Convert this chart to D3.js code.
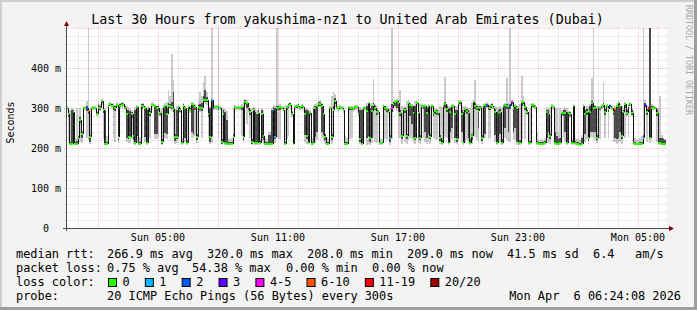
<!DOCTYPE html>
<html>
<head>
<meta charset="utf-8">
<script src="https://d3js.org/d3.v7.min.js"></script>
<style>
body{margin:0;background:#fff}
text{font-family:"DejaVu Sans Mono",monospace;fill:#000;white-space:pre}
</style>
</head>
<body>
<script>
const W = 697, H = 310;
const titleText = "Last 30 Hours from yakushima-nz1 to United Arab Emirates (Dubai)";
const endTime = new Date(2026, 3, 6, 6, 24, 8);
const spanHours = 30;
const stepSec = 300;

// median rtt per 5 min step (ms)
const medianMs = [
300,286,210,210,290,210,210,226,270,236, 300,300,300,292,227,300,300,300,285,300,
300,317,296,210,210,305,310,306,304,300, 308,228,306,308,310,300,285,228,228,285,
230,212,302,210,210,306,306,300,212,300, 287,308,308,304,300,300,287,214,302,304,
285,306,305,302,297,228,228,302,295,212, 306,300,212,302,296,310,308,302,228,302,
299,300,320,319,320,285,228,320,300,302,
302,300,300,214,286,212,210,210,210,210, 228,302,300,302,300,302,228,316,312,300,
290,214,296,212,212,288,212,286,230,210, 210,210,210,210,296,228,300,300,302,300,
296,210,302,306,308,286,210,302,304,306, 300,304,302,286,230,212,287,210,212,300,
304,310,310,306,285,228,210,210,300,228, 296,318,300,298,302,300,296,210,210,302,
300,300,298,302,302,286,222,210,300,300,
292,312,226,292,307,300,290,290,212,212, 305,301,297,290,226,301,309,315,317,313,
287,230,297,295,230,312,308,305,287,226, 313,287,226,305,305,305,287,305,228,305,
287,292,289,287,226,212,305,309,298,212, 290,305,305,284,222,312,315,284,212,297,
292,287,212,230,315,305,301,292,301,226, 305,307,307,301,301,305,301,290,212,287,
290,212,305,307,305,305,305,315,301,305,
300,212,212,315,315,302,290,212,212,307, 307,302,212,210,210,210,210,212,290,284,
230,305,303,212,210,210,212,287,287,287, 212,287,284,212,304,212,210,210,208,210,
305,284,290,226,290,312,301,301,226,302, 301,305,307,290,305,297,305,301,290,297,
305,313,305,230,290,311,287,305,311,287, 212,209,209,209,209,209,226,307,290,298,
226,301,301,301,287,212,212,210,209,209
];

// lowest / highest of the 20 pings per step (ms)
const smokeLo = [
294,218,208,208,210,208,208,210,216,212, 295,294,224,220,210,295,294,294,280,290,
292,308,222,208,208,220,304,300,224,214, 302,212,300,300,304,294,214,212,212,222,
210,208,214,208,208,226,300,216,208,294, 226,302,302,222,222,228,280,208,296,226,
222,296,298,292,226,210,212,222,288,208, 218,214,208,296,288,226,226,230,212,294,
290,226,310,310,308,224,210,212,294,296,
296,226,294,208,212,208,208,208,208,208, 212,296,294,296,294,230,212,306,260,290,
226,208,290,208,208,212,208,214,210,208, 208,208,208,208,224,212,226,222,222,294,
290,208,222,230,300,278,208,296,298,300, 294,298,296,216,210,208,280,208,208,212,
220,302,300,226,214,210,208,208,294,210, 224,300,294,290,296,294,288,208,208,224,
222,226,290,296,296,278,210,208,212,294,
208,210,208,212,226,214,212,284,208,208, 298,222,220,284,208,222,290,300,292,226,
226,210,290,214,210,220,226,222,212,210, 306,212,210,298,222,214,210,214,210,298,
226,222,220,280,210,208,298,228,226,208, 212,222,298,212,210,304,306,212,208,214,
220,212,208,210,306,228,220,214,294,210, 226,224,300,222,226,298,294,214,208,280,
214,208,222,226,220,214,214,306,222,220,
208,208,208,222,306,222,282,208,208,300, 300,296,208,208,208,208,208,208,212,214,
210,298,296,208,208,208,208,280,226,214, 208,280,276,208,298,208,208,208,208,208,
214,216,222,210,226,228,226,220,212,296, 222,298,300,226,298,224,298,294,214,214,
210,212,214,210,282,226,280,226,304,280, 208,208,208,208,208,208,210,300,214,290,
212,294,294,294,214,208,208,208,208,208
];
const smokeHi = [
306,300,296,300,298,226,300,232,300,244, 306,305,318,500,300,305,306,305,292,312,
310,322,306,300,230,312,316,312,312,308, 314,300,312,316,316,308,304,302,300,296,
236,302,308,300,228,312,312,306,302,306, 300,314,314,310,306,308,294,300,308,312,
316,345,330,435,370,300,306,308,302,226, 312,306,300,308,304,316,314,310,300,318,
340,330,365,380,340,300,306,500,306,308,
308,500,306,300,300,298,292,226,222,226, 300,308,306,308,306,310,318,322,320,312,
300,300,302,300,296,300,226,300,296,226, 222,240,240,300,308,306,500,308,310,306,
304,304,308,312,314,294,230,308,310,312, 306,310,308,300,300,298,294,226,304,310,
312,318,320,312,300,236,226,222,306,330, 340,336,306,304,308,306,304,230,226,306,
306,304,304,308,308,294,302,300,306,306,
312,316,310,312,372,310,306,296,226,222, 310,306,304,296,300,500,318,320,322,320,
345,306,302,304,318,320,314,310,306,318, 318,308,310,310,308,310,306,310,308,310,
306,300,298,294,304,302,312,378,310,304, 306,310,310,306,304,320,320,306,304,304,
302,300,300,316,320,370,310,306,306,304, 310,312,314,312,310,312,306,304,302,300,
304,300,310,312,375,312,500,320,308,310,
306,304,310,380,330,310,298,226,300,312, 312,308,240,222,220,222,220,226,302,300,
302,310,308,300,300,240,300,294,300,302, 300,294,292,226,310,226,222,222,220,232,
310,302,304,302,310,375,500,308,306,306, 304,310,365,304,310,304,310,306,300,304,
312,318,310,304,300,314,300,310,316,300, 296,226,222,220,224,230,500,320,304,306,
500,310,306,304,300,298,330,232,226,222
];
// central part of the pings per step (ms)
const coreLo = [
297,278,209,212,214,209,209,214,262,226, 298,297,292,284,216,298,297,297,282,292,
294,312,288,212,209,298,307,303,296,292, 305,220,303,304,307,297,226,222,224,276,
220,212,230,209,209,298,303,228,212,297, 280,305,305,236,236,292,283,209,299,238,
234,300,301,298,290,218,222,232,291,209, 230,226,209,299,292,240,236,294,220,298,
294,292,314,314,314,278,214,230,297,299,
299,294,297,209,226,212,210,209,209,209, 220,299,297,299,297,294,220,310,300,294,
282,209,293,212,212,222,209,226,220,209, 209,210,210,212,240,222,294,294,296,297,
293,209,296,300,304,282,209,299,301,303, 297,301,299,232,222,212,283,209,212,228,
240,306,304,240,232,220,209,209,297,220, 288,310,297,294,299,297,292,209,209,296,
294,294,295,299,299,282,216,212,240,297,
226,230,214,226,300,294,282,287,209,209, 302,294,290,287,214,290,300,306,300,290,
280,222,293,288,222,290,280,260,226,220, 309,226,220,302,298,240,226,236,222,302,
280,286,282,283,218,209,302,300,290,209, 240,250,302,226,216,308,310,240,210,290,
286,226,209,220,310,298,294,250,298,218, 240,236,303,294,294,302,298,232,210,283,
236,209,240,250,298,240,298,310,240,250,
214,210,209,306,310,296,286,209,209,303, 303,299,209,209,209,209,209,209,226,240,
222,302,300,209,209,209,210,283,280,240, 210,283,280,209,301,209,209,209,208,209,
240,236,282,218,240,240,240,240,220,299, 294,302,303,282,302,290,302,298,282,226,
222,226,240,222,286,300,283,296,307,283, 209,208,208,208,208,208,218,303,282,294,
226,298,298,298,280,209,210,209,208,208
];
const coreHi = [
303,290,216,294,294,214,218,230,278,240, 303,303,305,300,232,303,303,302,289,308,
306,320,300,292,214,308,313,309,308,304, 311,234,309,312,313,304,296,296,292,290,
234,296,304,216,214,309,309,302,296,303, 292,311,311,306,304,304,290,222,305,308,
300,312,310,316,340,234,296,305,299,218, 309,303,220,305,300,313,311,306,234,308,
310,312,330,345,328,292,300,322,303,305,
305,305,303,222,294,290,270,214,214,214, 234,305,303,305,303,306,236,319,316,306,
296,222,300,290,286,294,218,294,236,214, 214,232,232,296,302,300,306,304,306,303,
300,216,305,310,312,290,216,305,307,309, 303,307,305,296,294,292,291,214,298,304,
308,314,316,310,296,234,214,214,303,236, 304,324,303,301,305,303,300,216,214,304,
303,302,301,305,305,290,296,294,302,303,
306,314,300,306,312,304,296,293,216,216, 308,304,300,293,232,310,314,318,320,316,
294,236,300,300,236,316,310,306,300,304, 316,300,232,308,306,306,300,308,234,308,
294,296,294,291,232,220,308,314,304,220, 300,308,308,296,294,316,318,296,290,300,
298,294,222,236,318,312,306,298,304,232, 308,310,310,306,306,309,304,298,290,294,
298,222,308,310,310,308,310,318,304,308,
302,296,220,318,318,306,294,218,218,310, 310,305,218,214,214,214,214,218,296,294,
236,308,306,240,230,222,226,291,294,296, 290,291,289,218,307,218,214,214,212,226,
308,296,298,232,304,318,310,304,232,304, 303,308,312,298,308,302,308,303,296,300,
308,316,308,290,296,312,294,308,313,294, 222,214,212,212,214,214,232,312,298,302,
500,306,304,303,294,240,226,226,222,220
];

// steps with lost pings (index, pings lost of 20)
const lossSteps = [12,13,87,88,91,124,125,194,195,252,253,266,267,326,329,346,347,349];
const lossPings = [2,7,1,2,1,1,1,1,4,2,7,2,4,2,7,1,3,11];

const lossLabels = ["0","1","2","3","4-5","6-10","11-19","20/20"];
const lossColors = ["#26ff00","#00b8ff","#0059ff","#5e00ff","#ff00ff","#ff5500","#ff0000","#a10000"];

const yTicks = [0,100,200,300,400];
const medianStats = ["266.9 ms avg","320.0 ms max","208.0 ms min","209.0 ms now","41.5 ms sd","6.4","am/s"];
const lossStats = ["0.75 % avg","54.38 % max","0.00 % min","0.00 % now"];
const probeText = "20 ICMP Echo Pings (56 Bytes) every 300s";
const stampText = "Mon Apr  6 06:24:08 2026";

// ---- layout
const x0 = 66, x1 = 666, yTop = 28, yBot = 228;
const startTime = new Date(endTime.getTime() - spanHours*3600*1000);
const x = d3.scaleTime().domain([startTime, endTime]).range([x0, x1]);
const y = d3.scaleLinear().domain([0, 500]).range([yBot, yTop]);
const tStep = i => new Date(startTime.getTime() + i*stepSec*1000);

function lossBucket(n){
  if (n == 0) return 0;
  if (n <= 3) return n;
  if (n <= 5) return 4;
  if (n <= 10) return 5;
  if (n <= 19) return 6;
  return 7;
}
const lossByStep = new Map(lossSteps.map((s,k)=>[s, lossBucket(lossPings[k])]));

const svg = d3.select("body").append("svg")
  .attr("width", W).attr("height", H);

// frame
svg.append("rect").attr("width", W).attr("height", H).attr("fill", "#f3f3f3");
svg.append("rect").attr("x",0).attr("y",0).attr("width",W).attr("height",2).attr("fill","#cfcfcf");
svg.append("rect").attr("x",0).attr("y",0).attr("width",2).attr("height",H).attr("fill","#cfcfcf");
svg.append("rect").attr("x",W-3).attr("y",0).attr("width",3).attr("height",H).attr("fill","#9e9e9e");
svg.append("rect").attr("x",0).attr("y",H-3).attr("width",W).attr("height",3).attr("fill","#9e9e9e");

svg.append("rect").attr("x",x0).attr("y",yTop).attr("width",x1-x0+1).attr("height",yBot-yTop)
  .attr("fill","#fff");

svg.append("clipPath").attr("id","plot").append("rect")
  .attr("x",x0).attr("y",yTop).attr("width",x1-x0+1).attr("height",yBot-yTop);

const plot = svg.append("g").attr("clip-path","url(#plot)");
const idx = d3.range(medianMs.length);

// smoke
plot.append("g").attr("shape-rendering","crispEdges").selectAll("rect")
  .data(idx).join("rect")
  .attr("x", i => x(tStep(i)))
  .attr("width", i => x(tStep(i+1)) - x(tStep(i)))
  .attr("y", i => y(smokeHi[i]))
  .attr("height", i => y(smokeLo[i]) - y(smokeHi[i]))
  .attr("fill", "#cacaca");
plot.append("g").attr("shape-rendering","crispEdges").selectAll("rect")
  .data(idx).join("rect")
  .attr("x", i => x(tStep(i)))
  .attr("width", i => x(tStep(i+1)) - x(tStep(i)))
  .attr("y", i => y(coreHi[i]))
  .attr("height", i => y(coreLo[i]) - y(coreHi[i]))
  .attr("fill", "#4a4a4a");

// grid
const grid = svg.append("g").attr("shape-rendering","crispEdges");
const hours = d3.timeHour.range(startTime, endTime);
const hMinor = d3.range(0, 501, 20).filter(v => v % 100 != 0);
const hMajor = d3.range(100, 501, 100);
const minorCol = "rgba(128,128,128,0.28)", majorCol = "rgba(210,70,70,0.32)";
grid.selectAll("line.vm").data(hours.filter(h => h.getHours() % 3 != 2)).join("line")
  .attr("x1", d => Math.round(x(d))+0.5).attr("x2", d => Math.round(x(d))+0.5)
  .attr("y1", yTop-2).attr("y2", yBot+2)
  .attr("stroke", minorCol).attr("stroke-dasharray","1,1");
grid.selectAll("line.hm").data(hMinor).join("line")
  .attr("x1", x0-2).attr("x2", x1+2)
  .attr("y1", d => Math.round(y(d))+0.5).attr("y2", d => Math.round(y(d))+0.5)
  .attr("stroke", minorCol).attr("stroke-dasharray","1,1");
grid.selectAll("line.vM").data(hours.filter(h => h.getHours() % 3 == 2)).join("line")
  .attr("x1", d => Math.round(x(d))+0.5).attr("x2", d => Math.round(x(d))+0.5)
  .attr("y1", yTop-2).attr("y2", yBot+2)
  .attr("stroke", majorCol).attr("stroke-dasharray","1,1");
grid.selectAll("line.hM").data(hMajor).join("line")
  .attr("x1", x0-2).attr("x2", x1+2)
  .attr("y1", d => Math.round(y(d))+0.5).attr("y2", d => Math.round(y(d))+0.5)
  .attr("stroke", majorCol).attr("stroke-dasharray","1,1");

// median line
const med = plot.append("g").attr("shape-rendering","crispEdges");
med.selectAll("line.v").data(idx.slice(1)).join("line")
  .attr("x1", i => Math.round(x(tStep(i)))+0.5).attr("x2", i => Math.round(x(tStep(i)))+0.5)
  .attr("y1", i => y(medianMs[i-1])).attr("y2", i => y(medianMs[i]))
  .attr("stroke","#111").attr("stroke-width",1);
med.selectAll("line.h").data(idx).join("line")
  .attr("x1", i => x(tStep(i))).attr("x2", i => x(tStep(i+1)))
  .attr("y1", i => y(medianMs[i])).attr("y2", i => y(medianMs[i]))
  .attr("stroke", i => lossColors[lossByStep.get(i) || 0]).attr("stroke-width",2);

// axes
const axisColor = "#4a4a4a";
svg.append("line").attr("x1", x0+0.5).attr("x2", x0+0.5).attr("y1", yBot+3).attr("y2", yTop-3)
  .attr("stroke", axisColor).attr("shape-rendering","crispEdges");
svg.append("line").attr("x1", x0-3).attr("x2", x1+3).attr("y1", yBot+0.5).attr("y2", yBot+0.5)
  .attr("stroke", axisColor).attr("shape-rendering","crispEdges");
svg.append("path").attr("d", `M${x0-2},${yTop-2}L${x0+3},${yTop-2}L${x0+0.5},${yTop-7}Z`).attr("fill","#7f0000");
svg.append("path").attr("d", `M${x1+3},${yBot-2}L${x1+3},${yBot+3}L${x1+8},${yBot+0.5}Z`).attr("fill","#7f0000");

// y labels
svg.selectAll("text.yl").data(yTicks).join("text")
  .attr("x", 61).attr("y", d => y(d)+3.5).attr("text-anchor","end")
  .style("font-size","10px")
  .text(d => d == 0 ? "0  " : d3.format("d")(d) + " m");

// x labels
const labelHours = hours.filter(h => h.getHours() % 6 == 5);
svg.selectAll("text.xl").data(labelHours).join("text")
  .attr("x", d => x(d)).attr("y", 241).attr("text-anchor","middle")
  .style("font-size","10px")
  .text(d3.timeFormat("%a %H:%M"));

// title
svg.append("text").attr("x", 347.5).attr("y", 24).attr("text-anchor","middle")
  .style("font-size","13.3px").text(titleText);

svg.append("text").attr("transform","translate(13.5,122.5) rotate(-90)")
  .attr("text-anchor","middle").style("font-size","10px").text("Seconds");

svg.append("text").attr("transform","translate(686,5) rotate(90)")
  .style("font-size","8.3px").style("fill","#a8a8a8").text("RRDTOOL / TOBI OETIKER");

// legend
const lf = "11.9px";
const medX = [107, 207, 307, 407, 507, 593, 635];
svg.append("text").attr("x",16).attr("y",258).style("font-size",lf).text("median rtt:");
svg.selectAll("text.ms").data(medianStats).join("text")
  .attr("x",(d,i)=>medX[i]).attr("y",258).style("font-size",lf).text(d=>d);
const lossX = [107, 192, 286, 372];
svg.append("text").attr("x",16).attr("y",272).style("font-size",lf).text("packet loss:");
svg.selectAll("text.ls").data(lossStats).join("text")
  .attr("x",(d,i)=>lossX[i]).attr("y",272).style("font-size",lf).text(d=>d);
svg.append("text").attr("x",16).attr("y",286).style("font-size",lf).text("loss color:");
let bx = 108;
lossLabels.forEach((lab, i) => {
  svg.append("rect").attr("x", bx+0.5).attr("y", 278.5).attr("width", 8).attr("height", 8)
    .attr("fill", lossColors[i]).attr("stroke","#000").attr("stroke-width",1);
  svg.append("text").attr("x", bx+14.5).attr("y", 286).style("font-size",lf).text(lab);
  bx += 15 + lab.length*7.15 + 14.7;
});
svg.append("text").attr("x",16).attr("y",300).style("font-size",lf).text("probe:");
svg.append("text").attr("x",107).attr("y",300).style("font-size",lf).text(probeText);
svg.append("text").attr("x",681).attr("y",300).attr("text-anchor","end").style("font-size",lf).text(stampText);
</script>
</body>
</html>
